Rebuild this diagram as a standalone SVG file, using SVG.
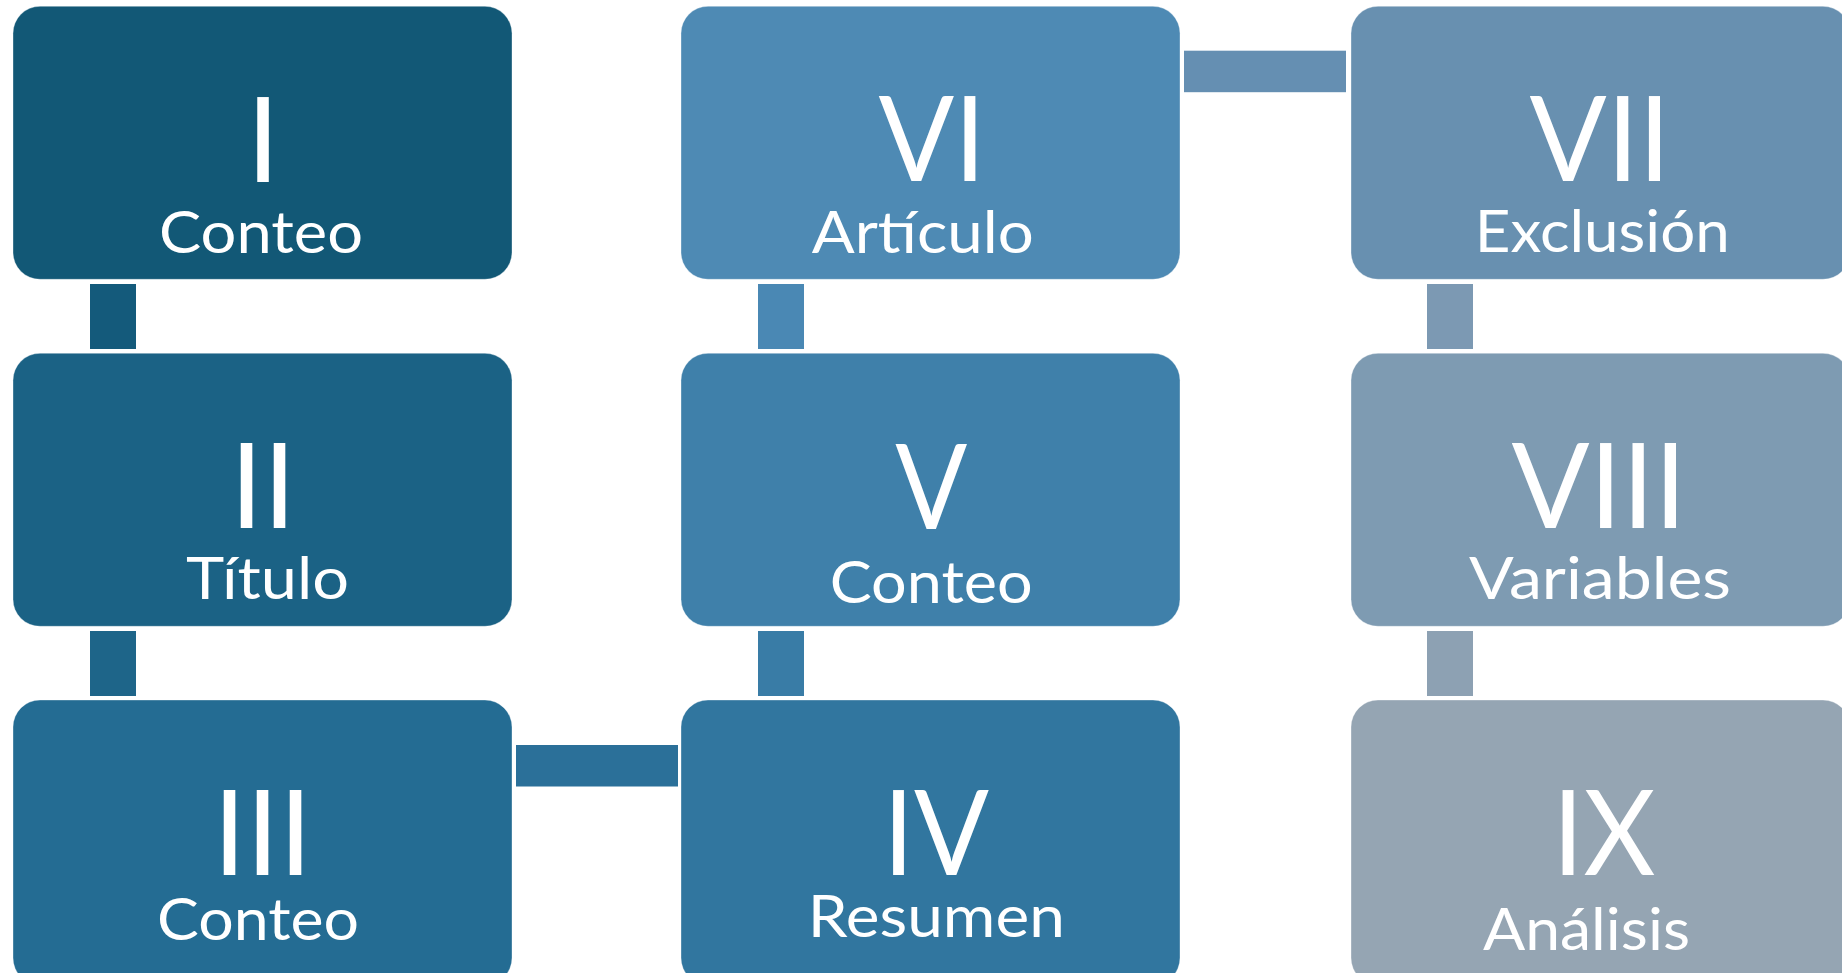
<svg xmlns="http://www.w3.org/2000/svg" width="1842" height="973" viewBox="0 0 1842 973">
<style>
.box{stroke:#ffffff;stroke-opacity:0.35;stroke-width:1}
.num{font-family:Lato,"Open Sans","Liberation Sans",sans-serif;font-size:118px;fill:#ffffff;text-anchor:middle}
.lab{font-family:Lato,"Open Sans","Liberation Sans",sans-serif;font-size:58px;fill:#ffffff;text-anchor:middle}
</style>
<rect width="1842" height="973" fill="#ffffff"/>
<g id="connectors">
<rect x="90" y="284" width="46" height="65" fill="#145A7B"/>
<rect x="90" y="631" width="46" height="65" fill="#1E6589"/>
<rect x="516" y="745" width="162" height="41.5" fill="#2B7099"/>
<rect x="758" y="631" width="46" height="65" fill="#397CA6"/>
<rect x="758" y="284" width="46" height="65" fill="#4A88B4"/>
<rect x="1184" y="50.7" width="162" height="41.5" fill="#658FB2"/>
<rect x="1427" y="284" width="46" height="65" fill="#7C99B3"/>
<rect x="1427" y="631" width="46" height="65" fill="#8DA1B3"/>
</g>
<g id="node1">
<rect class="box" x="13" y="6.3" width="499" height="273" rx="27" fill="#125876"/>
<text class="num" x="263" y="181.7">I</text>
<text class="lab" x="261" y="252.7" textLength="204" lengthAdjust="spacingAndGlyphs">Conteo</text>
</g>
<g id="node2">
<rect class="box" x="13" y="353.3" width="499" height="273" rx="27" fill="#1B6285"/>
<text class="num" x="263" y="528">II</text>
<text class="lab" x="267.6" y="599.3" textLength="163" lengthAdjust="spacingAndGlyphs">Título</text>
</g>
<g id="node3">
<rect class="box" x="13" y="700" width="499" height="285" rx="27" fill="#246C93"/>
<text class="num" x="262.5" y="874.7">III</text>
<text class="lab" x="258" y="939.7" textLength="202" lengthAdjust="spacingAndGlyphs">Conteo</text>
</g>
<g id="node4">
<rect class="box" x="681" y="700" width="499" height="285" rx="27" fill="#31769F"/>
<text class="num" x="936" y="874.7" textLength="106" lengthAdjust="spacingAndGlyphs">IV</text>
<text class="lab" x="936.3" y="937.3" textLength="257" lengthAdjust="spacingAndGlyphs">Resumen</text>
</g>
<g id="node5">
<rect class="box" x="681" y="353.3" width="499" height="273" rx="27" fill="#3F80AA"/>
<text class="num" x="931.3" y="529" textLength="72" lengthAdjust="spacingAndGlyphs">V</text>
<text class="lab" x="931.2" y="603.3" textLength="203" lengthAdjust="spacingAndGlyphs">Conteo</text>
</g>
<g id="node6">
<rect class="box" x="681" y="6.3" width="499" height="273" rx="27" fill="#4E8AB4"/>
<text class="num" x="932" y="181" textLength="107" lengthAdjust="spacingAndGlyphs">VI</text>
<text class="lab" x="922.8" y="252.7" textLength="222" lengthAdjust="spacingAndGlyphs">Artículo</text>
</g>
<g id="node7">
<rect class="box" x="1351" y="6.3" width="499" height="273" rx="27" fill="#6890B0"/>
<text class="num" x="1600" y="181" textLength="141" lengthAdjust="spacingAndGlyphs">VII</text>
<text class="lab" x="1602.3" y="251.7" textLength="255" lengthAdjust="spacingAndGlyphs">Exclusión</text>
</g>
<g id="node8">
<rect class="box" x="1351" y="353.3" width="499" height="273" rx="27" fill="#7E9BB2"/>
<text class="num" x="1599" y="528" textLength="175" lengthAdjust="spacingAndGlyphs">VIII</text>
<text class="lab" x="1600" y="599" textLength="262" lengthAdjust="spacingAndGlyphs">Variables</text>
</g>
<g id="node9">
<rect class="box" x="1351" y="700" width="499" height="285" rx="27" fill="#95A5B3"/>
<text class="num" x="1604" y="874.7" textLength="103" lengthAdjust="spacingAndGlyphs">IX</text>
<text class="lab" x="1586.5" y="949.7" textLength="207" lengthAdjust="spacingAndGlyphs">Análisis</text>
</g>
</svg>
